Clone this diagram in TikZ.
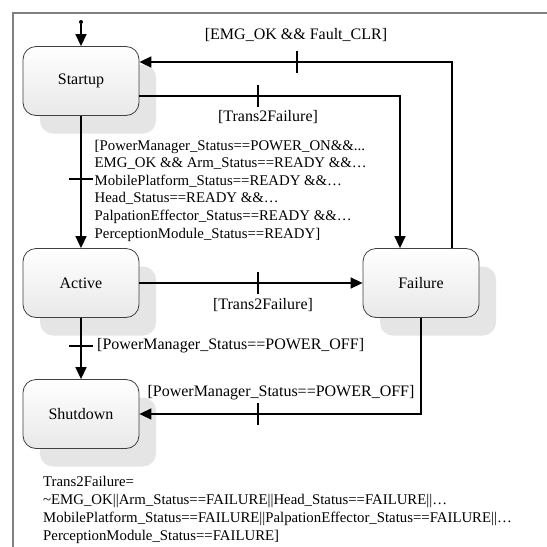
\documentclass[tikz,border=0pt]{standalone}
\usepackage{fontspec}
\setmainfont{Liberation Serif}
\usetikzlibrary{arrows.meta,shadows}
\begin{document}
\begin{tikzpicture}[x=1pt,y=-1pt,
 state/.style={draw=black!75, line width=0.8pt, rounded corners=13pt,
   minimum width=116pt, minimum height=69pt, top color=white, bottom color=black!9,
   font=\fontsize{16}{19}\selectfont,
   drop shadow={shadow xshift=17pt, shadow yshift=-18pt, fill=black!10, opacity=1}},
 trans/.style={line width=1.5pt, -{Triangle[length=12pt,width=11pt]}},
 tick/.style={line width=1.5pt},
 lbl/.style={font=\fontsize{16}{19}\selectfont, inner sep=0pt},
 guard/.style={font=\fontsize{14.8}{17.6}\selectfont, inner sep=0pt, align=left},
 notefont/.style={font=\fontsize{14.8}{18.2}\selectfont, inner sep=0pt, align=left},
 frame/.style={draw=black!50, line width=1.2pt}
]
\fill[white] (0,0) rectangle (547,547);
\useasboundingbox (0,0) rectangle (547,547);
\draw[frame] (13,547) -- (13,13) -- (547,13);

\node[state] (startup) at (81,81) {Startup};
\node[state] (active) at (81,283) {Active};
\node[state] (failure) at (421,283) {Failure};
\node[state] (shutdown) at (81,414) {Shutdown};
\node[circle, fill, inner sep=0pt, minimum size=4pt] (init) at (81,22) {};

\coordinate (c1) at (452,62);
\coordinate (c2) at (400,96);
\coordinate (c3) at (421,414);

\draw[trans] (init) -- (startup);
\draw[trans] (c1 |- failure.north) -- (c1) -- (c1 -| startup.east);
\draw[trans] (c2 -| startup.east) -- (c2) -- (c2 |- failure.north);
\draw[trans] (startup) -- (active);
\draw[trans] (active) -- (failure);
\draw[trans] (active) -- (shutdown);
\draw[trans] (failure.south) -- (c3) -- (c3 -| shutdown.east);

% ticks
\coordinate (t1) at (297,62);
\coordinate (t2) at (258,96);
\coordinate (t3) at (81,179);
\coordinate (t4) at (258,283);
\coordinate (t5) at (81,346);
\coordinate (t6) at (258,414);
\draw[tick] (t1) ++(0,-11) -- ++(0,22);
\draw[tick] (t2) ++(0,-11) -- ++(0,22);
\draw[tick] (t3) ++(-12,0) -- ++(24,0);
\draw[tick] (t4) ++(0,-11) -- ++(0,22);
\draw[tick] (t5) ++(-12,0) -- ++(24,0);
\draw[tick] (t6) ++(0,-11) -- ++(0,22);

% labels
\node[lbl] (l1) at (296,35) {[EMG\_OK \&\& Fault\_CLR]};
\node[lbl] (l2) at (268,117) {[Trans2Failure]};
\node[lbl] (l3) at (263,305) {[Trans2Failure]};
\node[lbl, anchor=west] (l4) at (97,346) {[PowerManager\_Status==POWER\_OFF]};
\node[lbl] (l5) at (281,393) {[PowerManager\_Status==POWER\_OFF]};
\node[guard, anchor=west] (g) at (94.5,190.5) {[PowerManager\_Status==POWER\_ON\&\&...\\
EMG\_OK \&\& Arm\_Status==READY \&\&…\\
MobilePlatform\_Status==READY \&\&…\\
Head\_Status==READY \&\&…\\
PalpationEffector\_Status==READY \&\&…\\
PerceptionModule\_Status==READY]};
\node[notefont, anchor=west] (note) at (43,510) {Trans2Failure=\\
\textasciitilde EMG\_OK||Arm\_Status==FAILURE||Head\_Status==FAILURE||…\\
MobilePlatform\_Status==FAILURE||PalpationEffector\_Status==FAILURE||…\\
PerceptionModule\_Status==FAILURE]};
\end{tikzpicture}
\end{document}
